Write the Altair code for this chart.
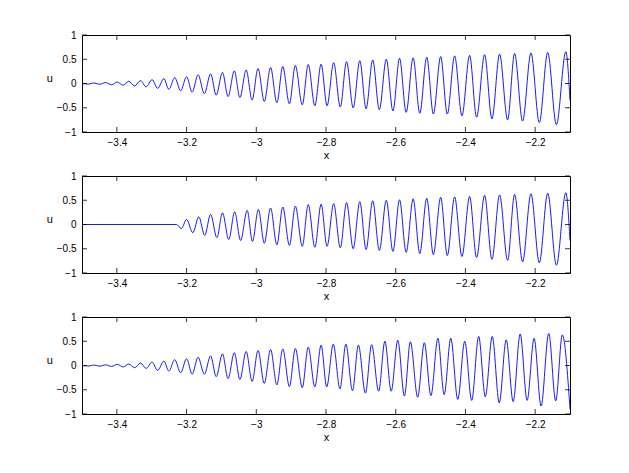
import altair as alt
import pandas as pd

x_ticks = [-3.4, -3.2, -3.0, -2.8, -2.6, -2.4, -2.2]
y_ticks = [-1, -0.5, 0, 0.5, 1]

# Panel 1: extrema of the curve (x, u)
x1 = [-3.500, -3.480, -3.466, -3.449, -3.433, -3.415, -3.399, -3.382, -3.366, -3.349,
      -3.332, -3.316, -3.299, -3.283, -3.265, -3.251, -3.234, -3.217, -3.200, -3.184,
      -3.167, -3.149, -3.131, -3.115, -3.097, -3.081, -3.063, -3.047, -3.029, -3.012,
      -2.995, -2.977, -2.959, -2.941, -2.924, -2.905, -2.888, -2.868, -2.851, -2.832,
      -2.814, -2.797, -2.778, -2.759, -2.741, -2.722, -2.703, -2.685, -2.666, -2.647,
      -2.627, -2.608, -2.589, -2.570, -2.550, -2.531, -2.511, -2.492, -2.471, -2.452,
      -2.431, -2.410, -2.388, -2.368, -2.345, -2.324, -2.302, -2.279, -2.259, -2.236,
      -2.212, -2.188, -2.164, -2.139, -2.112, -2.100]
u1 = [0.0, -0.012, 0.012, -0.018, 0.02, -0.025, 0.03, -0.035, 0.045, -0.05,
      0.06, -0.07, 0.08, -0.1, 0.1, -0.12, 0.12, -0.15, 0.14, -0.18,
      0.18, -0.21, 0.2, -0.24, 0.23, -0.27, 0.26, -0.29, 0.28, -0.34,
      0.31, -0.37, 0.33, -0.40, 0.35, -0.42, 0.37, -0.44, 0.39, -0.46,
      0.40, -0.46, 0.43, -0.485, 0.45, -0.505, 0.47, -0.52, 0.485, -0.54,
      0.50, -0.567, 0.52, -0.595, 0.53, -0.615, 0.54, -0.63, 0.555, -0.63,
      0.57, -0.665, 0.58, -0.695, 0.595, -0.73, 0.605, -0.75, 0.62, -0.775,
      0.63, -0.805, 0.64, -0.85, 0.655, -0.35]

# Panel 2: zero until about -3.23, then the oscillation
x2 = [-3.500, -3.229, -3.215, -3.200, -3.182, -3.165, -3.148, -3.131, -3.113, -3.097,
      -3.079, -3.062, -3.045, -3.026, -3.011, -2.994, -2.977, -2.959, -2.941, -2.924,
      -2.905, -2.888, -2.868, -2.851, -2.832, -2.814, -2.797, -2.778, -2.759, -2.741,
      -2.722, -2.703, -2.685, -2.666, -2.647, -2.627, -2.608, -2.589, -2.570, -2.550,
      -2.531, -2.511, -2.492, -2.471, -2.452, -2.431, -2.410, -2.388, -2.368, -2.345,
      -2.324, -2.302, -2.279, -2.259, -2.236, -2.212, -2.188, -2.164, -2.139, -2.112,
      -2.100]
u2 = [0.0, 0.0, -0.085, 0.105, -0.17, 0.16, -0.225, 0.21, -0.27, 0.24,
      -0.31, 0.26, -0.33, 0.29, -0.35, 0.31, -0.386, 0.34, -0.42, 0.36,
      -0.43, 0.38, -0.45, 0.41, -0.47, 0.42, -0.45, 0.43, -0.48, 0.45,
      -0.50, 0.47, -0.515, 0.49, -0.535, 0.50, -0.555, 0.51, -0.575, 0.53,
      -0.60, 0.54, -0.62, 0.56, -0.64, 0.57, -0.66, 0.58, -0.68, 0.60,
      -0.72, 0.61, -0.74, 0.62, -0.77, 0.635, -0.79, 0.645, -0.84, 0.655,
      -0.33]

# Panel 3
x3 = [-3.500, -3.480, -3.466, -3.449, -3.433, -3.415, -3.399, -3.382, -3.366, -3.349,
      -3.332, -3.316, -3.299, -3.283, -3.265, -3.251, -3.234, -3.217, -3.200, -3.184,
      -3.167, -3.149, -3.131, -3.115, -3.097, -3.081, -3.063, -3.047, -3.029, -3.012,
      -2.995, -2.977, -2.959, -2.941, -2.924, -2.905, -2.888, -2.868, -2.851, -2.832,
      -2.814, -2.798, -2.779, -2.760, -2.743, -2.724, -2.707, -2.687, -2.669, -2.649,
      -2.631, -2.613, -2.594, -2.575, -2.558, -2.537, -2.518, -2.499, -2.479, -2.461,
      -2.442, -2.422, -2.402, -2.382, -2.362, -2.343, -2.323, -2.303, -2.283, -2.263,
      -2.243, -2.223, -2.203, -2.183, -2.161, -2.141, -2.122, -2.100]
u3 = [0.0, -0.01, 0.01, -0.015, 0.015, -0.02, 0.025, -0.03, 0.03, -0.045,
      0.05, -0.06, 0.07, -0.1, 0.09, -0.115, 0.12, -0.15, 0.14, -0.18,
      0.17, -0.18, 0.20, -0.23, 0.24, -0.27, 0.265, -0.29, 0.29, -0.33,
      0.31, -0.37, 0.33, -0.40, 0.34, -0.435, 0.35, -0.455, 0.38, -0.44,
      0.42, -0.44, 0.44, -0.48, 0.44, -0.52, 0.42, -0.57, 0.43, -0.53,
      0.50, -0.53, 0.52, -0.63, 0.49, -0.655, 0.47, -0.62, 0.56, -0.60,
      0.56, -0.70, 0.50, -0.72, 0.60, -0.645, 0.60, -0.77, 0.53, -0.745,
      0.65, -0.72, 0.56, -0.835, 0.66, -0.73, 0.63, -0.9]

W, H = 488, 97
TICK = 5
FONT = "Liberation Sans"

xscale = alt.Scale(domain=[-3.5, -2.1], nice=False, zero=False)
yscale = alt.Scale(domain=[-1, 1], nice=False, zero=False)
common = dict(grid=False, domain=False, ticks=False,
              labelFont=FONT, labelFontSize=10, labelColor="#000",
              titleFont=FONT, titleFontSize=11, titleFontWeight="normal",
              titleColor="#000")
xaxis = alt.Axis(values=x_ticks, format="~g", title="x",
                 labelPadding=5, titlePadding=2, **common)
yaxis = alt.Axis(values=y_ticks, format="~g", title="u", titleAngle=0,
                 labelPadding=6, titlePadding=7, **common)


def X():
    return alt.X("x:Q", scale=xscale, axis=xaxis)


def Y():
    return alt.Y("u:Q", scale=yscale, axis=yaxis)


def panel(xs, us):
    df = pd.DataFrame({"x": xs, "u": us})
    line = alt.Chart(df).mark_line(
        color="#0000ff", strokeWidth=0.9, interpolate="monotone", clip=True
    ).encode(x=X(), y=Y(), order="x:Q")
    xt = pd.DataFrame({"x": x_ticks})
    yt = pd.DataFrame({"u": y_ticks})
    rule = dict(color="#000", strokeWidth=0.8)
    bottom = alt.Chart(xt).mark_rule(**rule).encode(
        x=X(), y=alt.value(H), y2=alt.value(H - TICK))
    top = alt.Chart(xt).mark_rule(**rule).encode(
        x=X(), y=alt.value(0), y2=alt.value(TICK))
    left = alt.Chart(yt).mark_rule(**rule).encode(
        y=Y(), x=alt.value(0), x2=alt.value(TICK))
    right = alt.Chart(yt).mark_rule(**rule).encode(
        y=Y(), x=alt.value(W), x2=alt.value(W - TICK))
    return alt.layer(line, bottom, top, left, right).properties(width=W, height=H)


chart = alt.vconcat(
    panel(x1, u1), panel(x2, u2), panel(x3, u3), spacing=9
).properties(
    padding={"left": 37, "top": 21, "right": 5, "bottom": 5},
    background="white",
).configure_view(
    stroke="#000", strokeWidth=1
)

chart.save("out.html", embed_options={"renderer": "svg", "actions": False})
